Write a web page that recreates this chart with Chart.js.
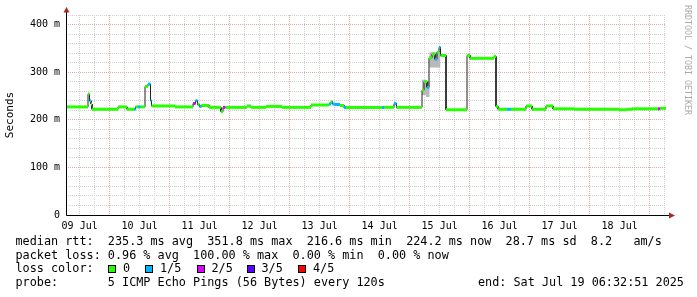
<!DOCTYPE html>
<html>
<head>
<meta charset="utf-8">
<script src="https://cdn.jsdelivr.net/npm/chart.js@4.4.1/dist/chart.umd.min.js"></script>
<style>
body { margin: 0; background: #fff; }
#wrap { position: relative; width: 697px; height: 297px; font-family: 'DejaVu Sans Mono', monospace; color: #000; }
#chart { position: absolute; left: 0; top: 0; }
.leg { position: absolute; font-size: 11.8px; line-height: 13.6px; white-space: pre; }
.box { position: absolute; top: 265px; width: 6px; height: 6px; border: 1px solid #000; }
#mark { position: absolute; left: 683px; top: 5px; writing-mode: vertical-rl; font-size: 8.3px; line-height: 9px; color: #aaa; }
</style>
</head>
<body>
<div id="wrap">
  <canvas id="chart" width="697" height="297"></canvas>
  <div class="leg" style="left:15.5px;top:235px">median rtt:  235.3 ms avg  351.8 ms max  216.6 ms min  224.2 ms now  28.7 ms sd  8.2   am/s</div>
  <div class="leg" style="left:15.5px;top:248.6px">packet loss: 0.96 % avg  100.00 % max  0.00 % min  0.00 % now</div>
  <div class="leg" style="left:15.5px;top:262.2px">loss color:</div>
  <div id="lossKey"></div>
  <div class="leg" style="left:15.5px;top:275.8px">probe:       5 ICMP Echo Pings (56 Bytes) every 120s</div>
  <div class="leg" style="left:478px;top:275.8px">end: Sat Jul 19 06:32:51 2025</div>
  <div id="mark">RRDTOOL / TOBI OETIKER</div>
</div>
<script>
// hours since Jul 09 06:32:51 (end = +240h)
const endHour = 240;
const firstNoon = 5.4525;          // 09 Jul 12:00
const dayLabels = ['09 Jul', '10 Jul', '11 Jul', '12 Jul', '13 Jul', '14 Jul', '15 Jul', '16 Jul', '17 Jul', '18 Jul'];
const yLabelValues = [0, 100, 200, 300, 400];
const yLabels = ['0', '100 m', '200 m', '300 m', '400 m'];

// median rtt in ms, one value per step starting at segStart
const segStart = [0.0, 8.8, 9.4, 10.0, 10.4, 20.8, 24.4, 27.2, 27.8, 28.8,
                  29.8, 31.6, 32.8, 33.8, 34.2, 43.6, 50.8, 51.8, 52.6, 53.4,
                  54.2, 57.2, 62.0, 62.8, 63.8, 72.4, 74.0, 80.0, 86.4, 98.0,
                  105.2, 106.0, 106.6, 107.6, 109.6, 111.2, 112.0, 126.4, 127.2, 131.2,
                  132.2, 142.4, 143.2, 144.4, 145.2, 146.4, 147.6, 148.4, 149.2, 149.8,
                  152.0, 160.4, 161.6, 171.2, 172.0, 172.8, 176.4, 178.0, 184.0, 186.4,
                  192.0, 194.8, 203.2, 221.2, 224.4, 226.4, 236.8, 237.6];
const medianMs = [227, 254, 240, 233, 222, 227, 222, 222, 227, 227,
                  227, 270, 275, 240, 229, 227, 234, 240, 232, 228,
                  230, 226, 217, 226, 226, 229, 226, 228, 226, 231,
                  233, 238, 233, 232, 230, 226, 226, 226, 226, 234,
                  226, 262, 280, 268, 330, 338, 327, 342, 352, 335,
                  221, 335, 329, 333, 228, 222, 222, 222, 229, 222,
                  229, 223, 222, 221, 222, 223, 223, 224];
// lost pings out of 5
const lossLevel = [0, 0, 1, 0, 0, 0, 0, 1, 0, 1,
                   0, 0, 1, 1, 0, 0, 2, 1, 0, 1,
                   0, 0, 0, 2, 0, 0, 0, 0, 0, 0,
                   1, 0, 1, 1, 0, 1, 0, 1, 0, 1,
                   0, 0, 0, 1, 0, 0, 1, 0, 1, 0,
                   0, 0, 0, 0, 0, 0, 1, 0, 0, 0,
                   0, 0, 0, 0, 0, 0, 2, 0];

// smoke (spread of the pings) around the jump on 15 Jul
const smokeStart = [142.4, 144.0, 145.4];
const smokeEnd = 149.8;
const smokeLo = [252, 248, 310];
const smokeHi = [284, 280, 342];

const lossNames = ['0', '1/5', '2/5', '3/5', '4/5'];
const lossColors = ['#26ff00', '#00b8ff', '#dd00ff', '#5e00ff', '#ff0000'];

function steps(starts, vals, end) {
    const pts = [];
    starts.forEach((s, i) => {
        const e = i + 1 < starts.length ? starts[i + 1] : end;
        pts.push({x: s, y: vals[i]}, {x: e, y: vals[i]});
    });
    return pts;
}

const medianPts = steps(segStart, medianMs, endHour);

const gridHours = [];
for (let h = firstNoon; h <= endHour; h += 6) gridHours.push(h);

// loss color legend
const keyLeft = [108, 145, 196.5, 246.5, 298];
const key = document.getElementById('lossKey');
lossNames.forEach((n, i) => {
    const b = document.createElement('span');
    b.className = 'box';
    b.style.left = keyLeft[i] + 'px';
    b.style.background = lossColors[i];
    key.appendChild(b);
    const t = document.createElement('span');
    t.className = 'leg';
    t.style.left = (keyLeft[i] + 15) + 'px';
    t.style.top = '262.2px';
    t.textContent = n;
    key.appendChild(t);
});

const axisArrows = {
    id: 'axisArrows',
    afterDraw(chart) {
        const {ctx, chartArea: a} = chart;
        const x0 = Math.round(a.left) + 0.5, y0 = Math.round(a.bottom) + 0.5;
        ctx.save();
        ctx.strokeStyle = '#000';
        ctx.lineWidth = 1;
        ctx.beginPath();
        ctx.moveTo(x0, y0); ctx.lineTo(x0, a.top - 4);
        ctx.moveTo(x0, y0); ctx.lineTo(a.right + 4, y0);
        ctx.stroke();
        ctx.fillStyle = '#a52a2a';
        ctx.beginPath();
        ctx.moveTo(x0 - 3, a.top - 2.5); ctx.lineTo(x0 + 3, a.top - 2.5); ctx.lineTo(x0, a.top - 8);
        ctx.fill();
        ctx.beginPath();
        ctx.moveTo(a.right + 3, y0 - 3); ctx.lineTo(a.right + 3, y0 + 3); ctx.lineTo(a.right + 9, y0);
        ctx.fill();
        ctx.restore();
    }
};

const monoTick = {family: 'DejaVu Sans Mono', size: 10};
const minorGrid = '#d2d2d2';
const majorGrid = '#eaa6a6';

new Chart(document.getElementById('chart'), {
    type: 'line',
    data: {
        datasets: [{
            // median band colored by loss
            data: medianPts,
            borderWidth: 3,
            borderCapStyle: 'butt',
            segment: {
                borderColor: c => c.p0DataIndex % 2 === 0 ? lossColors[lossLevel[c.p0DataIndex / 2]] : 'rgba(0,0,0,0)'
            }
        }, {
            // thin median line
            data: medianPts,
            borderColor: '#202020',
            borderWidth: 1
        }, {
            data: steps(smokeStart, smokeHi, smokeEnd),
            borderWidth: 0,
            borderColor: 'rgba(0,0,0,0)',
            backgroundColor: '#b8b8b8',
            fill: '+1'
        }, {
            data: steps(smokeStart, smokeLo, smokeEnd),
            borderWidth: 0,
            borderColor: 'rgba(0,0,0,0)'
        }]
    },
    options: {
        responsive: false,
        animation: false,
        devicePixelRatio: 1,
        layout: { padding: { top: 15, right: 31, bottom: 0, left: 0 } },
        plugins: { legend: { display: false }, tooltip: { enabled: false } },
        elements: { point: { radius: 0 }, line: { tension: 0 } },
        scales: {
            x: {
                type: 'linear',
                min: 0,
                max: endHour,
                afterBuildTicks: s => { s.ticks = gridHours.map(v => ({value: v})); },
                afterFit: s => { s.height = 82; },
                grid: {
                    drawTicks: false,
                    lineWidth: 1,
                    color: c => (c.index % 4 === 2 ? majorGrid : minorGrid)
                },
                border: { display: false, dash: [1, 1] },
                ticks: {
                    autoSkip: false,
                    maxRotation: 0,
                    padding: 5,
                    color: '#000',
                    font: monoTick,
                    callback: (v, i) => (i % 4 === 0 ? dayLabels[i / 4] : '')
                }
            },
            y: {
                min: 0,
                max: 420,
                afterFit: s => { s.width = 66; },
                grid: {
                    drawTicks: false,
                    lineWidth: 1,
                    color: c => (c.tick.value % 100 === 0 ? majorGrid : minorGrid)
                },
                border: { display: false, dash: [1, 1] },
                ticks: {
                    stepSize: 20,
                    autoSkip: false,
                    padding: 6,
                    color: '#000',
                    font: monoTick,
                    callback: v => {
                        const k = yLabelValues.indexOf(v);
                        return k >= 0 ? yLabels[k] : '';
                    }
                },
                title: {
                    display: true,
                    text: 'Seconds',
                    color: '#000',
                    font: {family: 'DejaVu Sans Mono', size: 11},
                    padding: {top: 3.5, bottom: 0}
                }
            }
        }
    },
    plugins: [axisArrows]
});
</script>
</body>
</html>
